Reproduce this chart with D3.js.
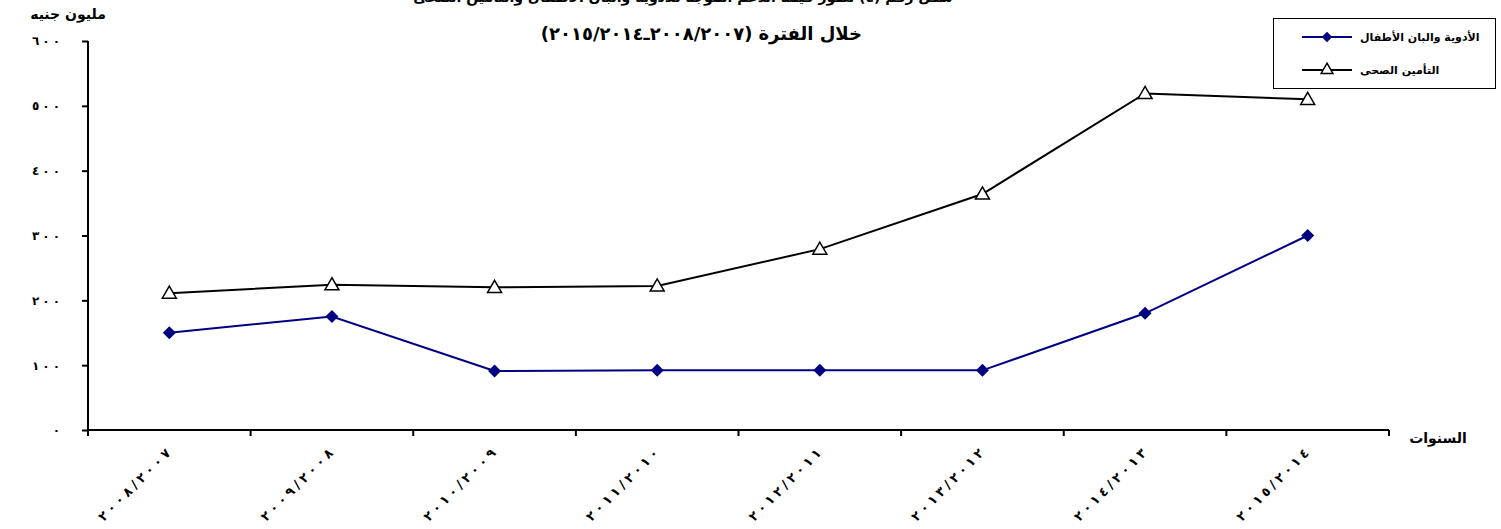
<!DOCTYPE html>
<html><head><meta charset="utf-8">
<script src="https://cdn.jsdelivr.net/npm/d3@7"></script>
<style>html,body{margin:0;padding:0;background:#fff;}svg{display:block;}</style>
</head><body>
<svg id="c" width="1501" height="529"></svg>
<script>
const categories = ["٢٠٠٨/٢٠٠٧","٢٠٠٩/٢٠٠٨","٢٠١٠/٢٠٠٩","٢٠١١/٢٠١٠","٢٠١٢/٢٠١١","٢٠١٣/٢٠١٢","٢٠١٤/٢٠١٣","٢٠١٥/٢٠١٤"];
const medicines = [150, 175, 91, 92, 92, 92, 180, 300];
const insurance = [211, 224, 220, 222, 279, 364, 519, 510];
const seriesNames = ["الأدوية والبان الأطفال", "التأمين الصحى"];
const yTicks = [0, 100, 200, 300, 400, 500, 600];
const yTickLabels = ["٠", "١٠٠", "٢٠٠", "٣٠٠", "٤٠٠", "٥٠٠", "٦٠٠"];
const titleLine1 = "شكل رقم (٤) تطور قيمة الدعم الموجه للأدوية والبان الأطفال والتأمين الصحى";
const titleLine2Words = "خلال الفترة";
const titleLine2Period = "(٢٠١٥/٢٠١٤ـ٢٠٠٨/٢٠٠٧)";
const yAxisTitle = "مليون جنيه";
const xAxisTitle = "السنوات";

const svg = d3.select("#c");
const font = "'DejaVu Sans', sans-serif";
const L = 88, R = 1389, T = 41, B = 430;
const x = d3.scaleBand().domain(categories).range([L, R]);
const y = d3.scaleLinear().domain([0, 600]).range([B, T]);
const ltr = s => s.style("direction", "ltr").style("unicode-bidi", "bidi-override");

// titles
svg.append("text").attr("x", 683).attr("y", 2).attr("text-anchor", "middle")
  .attr("font-family", font).attr("font-weight", "bold").attr("font-size", 14).text(titleLine1);
const tw = svg.append("text").attr("x", 862).attr("y", 40).attr("text-anchor", "end")
  .attr("font-family", font).attr("font-weight", "bold").attr("font-size", 18).text(titleLine2Words);
const twLen = tw.node().getComputedTextLength();
svg.append("text").attr("x", 862 - twLen - 6).attr("y", 40).attr("text-anchor", "end")
  .attr("font-family", font).attr("font-weight", "bold").attr("font-size", 18)
  .call(ltr).text(titleLine2Period);

// axes
const yAxis = d3.axisLeft(y).tickValues(yTicks).tickSize(6).tickPadding(22)
  .tickFormat((d, i) => yTickLabels[i]);
const gy = svg.append("g").attr("transform", `translate(${L},0)`).call(yAxis);
gy.select(".domain").attr("stroke-width", 2).attr("d", `M0,${T}V${B}`);
gy.selectAll(".tick line").attr("stroke-width", 2);
gy.selectAll(".tick text").attr("font-family", font).attr("font-weight", "bold")
  .attr("font-size", 12).call(ltr)
  .each(function(d, i) {
    if (yTickLabels[i].length > 1) d3.select(this).attr("textLength", 28).attr("lengthAdjust", "spacing");
  });

const xAxis = d3.axisBottom(x).tickSize(0).tickFormat(() => "");
const gx = svg.append("g").attr("transform", `translate(0,${B})`).call(xAxis);
gx.select(".domain").attr("stroke-width", 2).attr("d", `M${L},0H${R}`);
const bounds = categories.map(c => x(c)).concat([R]);
gx.selectAll(".bt").data(bounds).join("line").attr("class", "bt")
  .attr("x1", d => d).attr("x2", d => d).attr("y1", 0).attr("y2", 6)
  .attr("stroke", "#000").attr("stroke-width", 2);
gx.selectAll(".lbl").data(categories).join("text").attr("class", "lbl")
  .attr("transform", d => `translate(${x(d) + x.bandwidth() / 2 + 2},${24}) rotate(-45)`)
  .attr("text-anchor", "end").attr("fill", "#000").attr("font-family", font).attr("font-weight", "bold")
  .attr("font-size", 13).attr("textLength", 96).attr("lengthAdjust", "spacing")
  .call(ltr).text(d => d);

svg.append("text").attr("x", 68).attr("y", 19).attr("text-anchor", "middle")
  .attr("font-family", font).attr("font-weight", "bold").attr("font-size", 14).text(yAxisTitle);
svg.append("text").attr("x", 1438).attr("y", 443).attr("text-anchor", "middle")
  .attr("font-family", font).attr("font-weight", "bold").attr("font-size", 14).text(xAxisTitle);

// lines
const cx = d => x(d) + x.bandwidth() / 2;
const line = d3.line().x(d => cx(d[0])).y(d => y(d[1]));
const diamond = d3.symbol().type(d3.symbolSquare).size(85);
const tri = d3.symbol().type(d3.symbolTriangle).size(85);

svg.append("path").datum(categories.map((c, i) => [c, insurance[i]])).attr("d", line)
  .attr("fill", "none").attr("stroke", "#000").attr("stroke-width", 2);
svg.append("path").datum(categories.map((c, i) => [c, medicines[i]])).attr("d", line)
  .attr("fill", "none").attr("stroke", "#000080").attr("stroke-width", 2);

svg.selectAll(".tri").data(categories).join("path").attr("class", "tri")
  .attr("transform", (c, i) => `translate(${cx(c)},${y(insurance[i]) + 1})`)
  .attr("d", tri).attr("fill", "#fff").attr("stroke", "#000").attr("stroke-width", 1.5);
svg.selectAll(".dia").data(categories).join("path").attr("class", "dia")
  .attr("transform", (c, i) => `translate(${cx(c)},${y(medicines[i])}) rotate(45)`)
  .attr("d", diamond).attr("fill", "#000080");

// legend
const lg = svg.append("g");
lg.append("rect").attr("x", 1273.5).attr("y", 18.5).attr("width", 222).attr("height", 70)
  .attr("fill", "#fff").attr("stroke", "#000").attr("stroke-width", 1);
const ly = [37, 70];
lg.append("line").attr("x1", 1302).attr("x2", 1352).attr("y1", ly[0]).attr("y2", ly[0])
  .attr("stroke", "#000080").attr("stroke-width", 2);
lg.append("path").attr("transform", `translate(1327,${ly[0]}) rotate(45)`)
  .attr("d", d3.symbol().type(d3.symbolSquare).size(55)).attr("fill", "#000080");
lg.append("line").attr("x1", 1302).attr("x2", 1352).attr("y1", ly[1]).attr("y2", ly[1])
  .attr("stroke", "#000").attr("stroke-width", 2);
lg.append("path").attr("transform", `translate(1327,${ly[1]})`)
  .attr("d", d3.symbol().type(d3.symbolTriangle).size(60)).attr("fill", "#fff")
  .attr("stroke", "#000").attr("stroke-width", 1.5);
seriesNames.forEach((n, i) => {
  lg.append("text").attr("x", 1360).attr("y", ly[i] + 4).attr("text-anchor", "start")
    .attr("font-family", font).attr("font-weight", "bold").attr("font-size", 11).text(n);
});
</script>
</body></html>
